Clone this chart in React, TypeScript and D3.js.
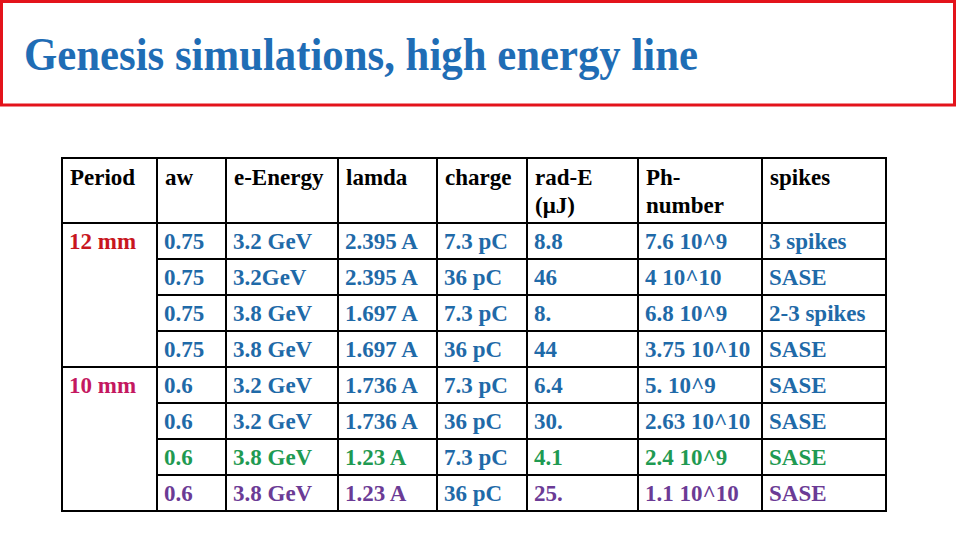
import React from "react";
import * as d3 from "d3";

const title = "Genesis simulations, high energy line";
const headers = ["Period", "aw", "e-Energy", "lamda", "charge", "rad-E\n(\u03bcJ)", "Ph-\nnumber", "spikes"];
const periods = ["12 mm", "", "", "", "10 mm", "", "", ""];
const aw = ["0.75", "0.75", "0.75", "0.75", "0.6", "0.6", "0.6", "0.6"];
const energy = ["3.2 GeV", "3.2GeV", "3.8 GeV", "3.8 GeV", "3.2 GeV", "3.2 GeV", "3.8 GeV", "3.8 GeV"];
const lamda = ["2.395 A", "2.395 A", "1.697 A", "1.697 A", "1.736 A", "1.736 A", "1.23 A", "1.23 A"];
const charge = ["7.3 pC", "36 pC", "7.3 pC", "36 pC", "7.3 pC", "36 pC", "7.3 pC", "36 pC"];
const radE = ["8.8", "46", "8.", "44", "6.4", "30.", "4.1", "25."];
const phNumber = ["7.6 10^9", "4 10^10", "6.8 10^9", "3.75 10^10", "5. 10^9", "2.63 10^10", "2.4 10^9", "1.1 10^10"];
const spikes = ["3 spikes", "SASE", "2-3 spikes", "SASE", "SASE", "SASE", "SASE", "SASE"];

// styles
const BLUE = "#1f6aa8";
const GREEN = "#1f9a52";
const PURPLE = "#6b3b95";
const periodColors = ["#c8161e", "", "", "", "#c41860", "", "", ""];
const rowColors = [BLUE, BLUE, BLUE, BLUE, BLUE, BLUE, GREEN, PURPLE];

const colEdges = [62, 157, 226, 338, 437, 527, 638, 762, 886];

export default function App() {
  const columns = [periods, aw, energy, lamda, charge, radE, phNumber, spikes];
  const nRows = aw.length;
  const headerTop = 158;
  const headerBottom = 223;
  const y = d3.scaleBand<number>().domain(d3.range(nRows)).range([headerBottom, 511]).padding(0);
  const x = (i: number) => colEdges[i];
  const font = "'Liberation Serif', 'Times New Roman', serif";
  const fs = 23;

  const cellColor = (c: number, r: number) => {
    if (c === 0) return periodColors[r] || BLUE;
    if (c === 4) return BLUE;
    return rowColors[r];
  };

  return (
    <svg width={960} height={540} style={{ position: "absolute", left: 0, top: 0, background: "#fff" }}>
      <rect x={0} y={0} width={960} height={540} fill="#fff" />
      <rect x={1.5} y={1.5} width={953} height={103.5} fill="none" stroke="#e3131b" strokeWidth={3} />
      <text
        x={24}
        y={70}
        fontFamily={font}
        fontWeight="bold"
        fontSize={47}
        fill="#1f6db5"
        textLength={674}
        lengthAdjust="spacingAndGlyphs"
      >
        {title}
      </text>

      {/* header text */}
      {headers.map((h, c) => (
        <text key={"h" + c} x={x(c) + 8} y={185} fontFamily={font} fontWeight="bold" fontSize={fs} fill="#000">
          {h.split("\n").map((line, k) => (
            <tspan key={k} x={x(c) + 8} dy={k === 0 ? 0 : 28}>
              {line}
            </tspan>
          ))}
        </text>
      ))}

      {/* body text */}
      {columns.map((col, c) =>
        col.map((v, r) =>
          v ? (
            <text
              key={c + "-" + r}
              x={x(c) + 7}
              y={(y(r) as number) + 26}
              fontFamily={font}
              fontWeight="bold"
              fontSize={fs}
              fill={cellColor(c, r)}
            >
              {v}
            </text>
          ) : null
        )
      )}

      {/* grid lines */}
      <g stroke="#000" strokeWidth={2}>
        {[headerTop, ...d3.range(nRows).map((r) => y(r) as number), 511].map((yy, i) => {
          const isBodyInner = i >= 2 && i <= nRows;
          const r = i - 1;
          const startX = isBodyInner && !periods[r] ? x(1) : x(0);
          return <line key={"r" + i} x1={startX - 1} x2={colEdges[8] + 1} y1={yy} y2={yy} />;
        })}
        {colEdges.map((xx, i) => (
          <line key={"c" + i} x1={xx} x2={xx} y1={headerTop} y2={511} />
        ))}
      </g>
    </svg>
  );
}
